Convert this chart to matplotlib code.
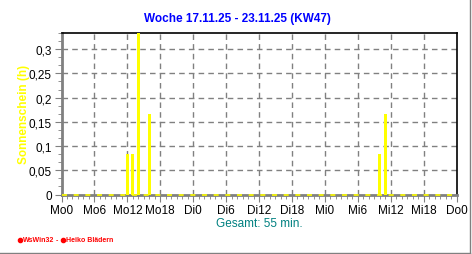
import matplotlib.pyplot as plt
from matplotlib.lines import Line2D
from matplotlib.ticker import MultipleLocator

# Sunshine per hour (hours since Mon 00:00) and minutes of sun
hours = [12, 13, 14, 16, 58, 59]
minutes = [5, 5, 20, 10, 5, 10]
sun_h = [m / 60 for m in minutes]

tick_pos = list(range(0, 73, 6))
tick_labels = ["Mo0", "Mo6", "Mo12", "Mo18", "Di0", "Di6", "Di12", "Di18",
               "Mi0", "Mi6", "Mi12", "Mi18", "Do0"]
y_ticks = [0, 0.05, 0.1, 0.15, 0.2, 0.25, 0.3]
y_labels = ["0", "0,05", "0,1", "0,15", "0,2", "0,25", "0,3"]

title = "Woche 17.11.25 - 23.11.25 (KW47)"
total_text = "Gesamt: 55 min."

plt.rcParams["font.family"] = ["Liberation Sans", "DejaVu Sans"]

fig = plt.figure(figsize=(4.72, 2.55), dpi=100)
fig.patch.set_facecolor("white")
ax = fig.add_axes([61.5 / 472, 1 - 195.5 / 255, 395 / 472, 161.5 / 255])

ax.set_xlim(0, 72)
ax.set_ylim(0, 1 / 3)

# grid
for x in tick_pos[1:-1]:
    ax.axvline(x, color="#808080", lw=1, ls=(0, (4, 3)), zorder=1)
for y in y_ticks[1:]:
    ax.axhline(y, color="#808080", lw=1, ls=(0, (4, 3)), zorder=1)

# zero line and bars
ax.axhline(0, color="yellow", lw=1.2, ls=(0, (3, 4)), zorder=4, clip_on=False)
ax.bar(hours, sun_h, width=0.5, color="yellow", zorder=3)

ax.set_xticks(tick_pos)
ax.set_xticklabels(tick_labels, fontsize=8.5)
ax.xaxis.set_minor_locator(MultipleLocator(1))
ax.set_yticks(y_ticks)
ax.set_yticklabels(y_labels, fontsize=8.5)
ax.yaxis.set_minor_locator(MultipleLocator(0.05 / 3))
ax.tick_params(axis="both", which="major", length=5, color="#808080", pad=2)
ax.tick_params(axis="both", which="minor", length=3, color="#808080")

ax.spines[["left", "bottom"]].set_color("#808080")
ax.spines[["left", "bottom"]].set_linewidth(2)
ax.spines[["top", "right"]].set_color("black")
ax.spines[["top", "right"]].set_linewidth(1.2)

ax.set_ylabel("Sonnenschein (h)", color="yellow", fontweight="bold", fontsize=8.5)
ax.yaxis.set_label_coords(-0.08, 0.5)

fig.text(237 / 472, 1 - 19 / 255, title, color="#0000ff", fontweight="bold",
         fontsize=8.5, ha="center", va="center")
fig.text(259 / 472, 1 - 224 / 255, total_text, color="#008080",
         fontsize=8.5, ha="center", va="center")

# credit line
cy = 1 - 241 / 255
fig.text(22.5 / 472, cy, "WsWin32", color="red", fontweight="bold",
         fontsize=5, ha="left", va="center")
fig.text(55.5 / 472, cy, "-", color="red", fontweight="bold",
         fontsize=5, ha="left", va="center")
fig.text(66 / 472, cy, "Heiko Blädern", color="red", fontweight="bold",
         fontsize=5, ha="left", va="center")
for cx in (19.5, 63):
    fig.add_artist(Line2D([cx / 472], [cy], marker="o", markersize=3,
                          color="red", transform=fig.transFigure))

# window frame (right and bottom)
fig.add_artist(Line2D([469.5 / 472, 469.5 / 472], [0, 1], color="#808080", lw=1,
                      transform=fig.transFigure))
fig.add_artist(Line2D([0, 470 / 472], [1.2 / 255, 1.2 / 255], color="#808080", lw=1,
                      transform=fig.transFigure))

fig.savefig("out.png", dpi=100)
